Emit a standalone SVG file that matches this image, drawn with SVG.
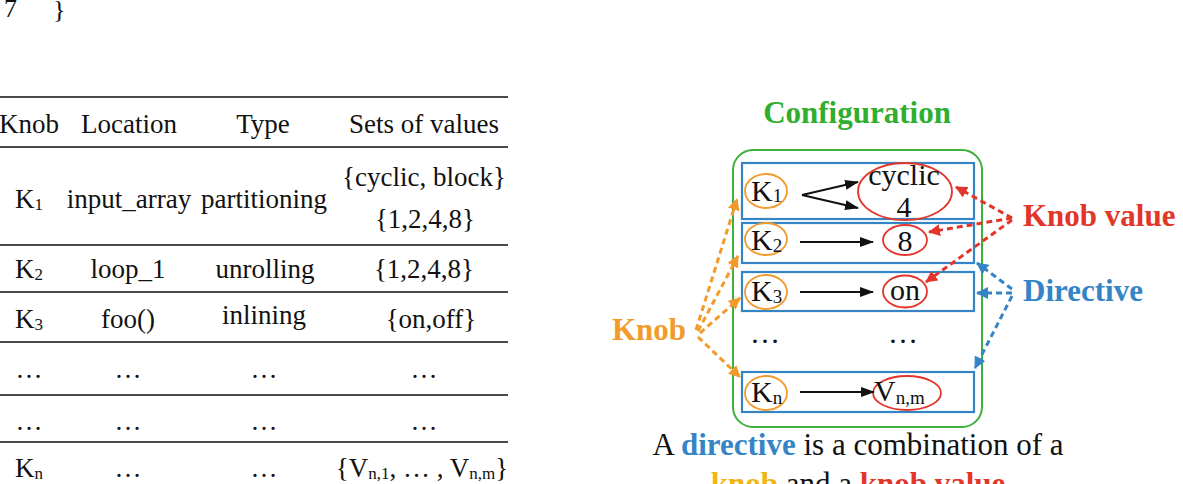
<svg xmlns="http://www.w3.org/2000/svg" width="1183" height="484" viewBox="0 0 1183 484">
  <style>
    .serif { font-family: "Liberation Serif", "Times New Roman", serif; fill: #111; }
    .tbl { font-size: 27px; text-anchor: middle; }
    .rule { stroke: #4a4a4a; stroke-width: 2.2; fill: none; }
    .dir { fill: none; stroke: #3585c6; stroke-width: 2.2; }
    .knob { fill: none; stroke: #f39a2c; stroke-width: 1.8; }
    .val { fill: none; stroke: #e2362b; stroke-width: 1.8; }
    .bold { font-weight: bold; font-size: 31px; }
    .lbl { font-size: 30px; }
    .flow { stroke: #111; stroke-width: 2; fill: none; marker-end: url(#ah-black); }
    .dash-o { stroke: #f39a2c; stroke-width: 3; stroke-dasharray: 6 4; fill: none; marker-end: url(#ah-orange); }
    .dash-r { stroke: #e2362b; stroke-width: 3; stroke-dasharray: 6 4; fill: none; marker-end: url(#ah-red); }
    .dash-b { stroke: #3585c6; stroke-width: 3; stroke-dasharray: 6 4; fill: none; marker-end: url(#ah-blue); }
  </style>
  <defs>
    <marker id="ah-black" markerUnits="userSpaceOnUse" markerWidth="14" markerHeight="10" refX="13" refY="5" orient="auto">
      <path d="M0,0 L14,5 L0,10 z" fill="#111"/>
    </marker>
    <marker id="ah-orange" markerUnits="userSpaceOnUse" markerWidth="12" markerHeight="12" refX="11" refY="6" orient="auto">
      <path d="M0,0 L12,6 L0,12 z" fill="#f39a2c"/>
    </marker>
    <marker id="ah-red" markerUnits="userSpaceOnUse" markerWidth="12" markerHeight="12" refX="11" refY="6" orient="auto">
      <path d="M0,0 L12,6 L0,12 z" fill="#e2362b"/>
    </marker>
    <marker id="ah-blue" markerUnits="userSpaceOnUse" markerWidth="12" markerHeight="12" refX="11" refY="6" orient="auto">
      <path d="M0,0 L12,6 L0,12 z" fill="#3585c6"/>
    </marker>
  </defs>

  <rect width="1183" height="484" fill="#fff"/>

  <!-- tail of the code listing above -->
  <g id="code-tail" class="serif" font-size="26">
    <text x="4" y="17">7</text>
    <text x="53" y="18">}</text>
  </g>

  <!-- knob table -->
  <g id="knob-table">
    <g class="rules">
      <line class="rule" x1="0" y1="97" x2="508" y2="97"/>
      <line class="rule" x1="0" y1="147" x2="508" y2="147"/>
      <line class="rule" x1="0" y1="245" x2="508" y2="245"/>
      <line class="rule" x1="0" y1="292" x2="508" y2="292"/>
      <line class="rule" x1="0" y1="342" x2="508" y2="342"/>
      <line class="rule" x1="0" y1="395" x2="508" y2="395"/>
      <line class="rule" x1="0" y1="442" x2="508" y2="442"/>
    </g>
    <g class="serif tbl">
      <text x="29" y="133">Knob</text>
      <text x="129" y="133">Location</text>
      <text x="263" y="133">Type</text>
      <text x="424" y="133">Sets of values</text>

      <text x="29" y="208">K<tspan font-size="17" dy="2">1</tspan></text>
      <text x="129" y="208">input_array</text>
      <text x="264" y="208">partitioning</text>
      <text x="424" y="186">{cyclic, block}</text>
      <text x="425" y="228">{1,2,4,8}</text>

      <text x="29" y="278">K<tspan font-size="17" dy="2">2</tspan></text>
      <text x="128" y="278">loop_1</text>
      <text x="265" y="278">unrolling</text>
      <text x="424" y="278">{1,2,4,8}</text>

      <text x="29" y="328">K<tspan font-size="17" dy="2">3</tspan></text>
      <text x="128" y="328">foo()</text>
      <text x="264" y="324">inlining</text>
      <text x="431" y="328">{on,off}</text>

      <text x="29" y="378">…</text>
      <text x="128" y="378">…</text>
      <text x="264" y="378">…</text>
      <text x="424" y="378">…</text>

      <text x="29" y="430">…</text>
      <text x="128" y="430">…</text>
      <text x="264" y="430">…</text>
      <text x="424" y="430">…</text>

      <text x="29" y="477">K<tspan font-size="17" dy="2">n</tspan></text>
      <text x="128" y="477">…</text>
      <text x="264" y="477">…</text>
      <text x="422" y="477">{V<tspan font-size="17" dy="2">n,1</tspan><tspan dy="-2">, … , V</tspan><tspan font-size="17" dy="2">n,m</tspan><tspan dy="-2">}</tspan></text>
    </g>
  </g>

  <!-- configuration -->
  <g id="configuration">
    <text class="serif bold" x="857" y="123" text-anchor="middle" fill="#2fae2f" style="fill:#2fae2f">Configuration</text>
    <rect x="733" y="150" width="249" height="277" rx="20" fill="none" stroke="#3db03d" stroke-width="2"/>
  </g>

  <g id="directive-1">
    <rect class="dir" x="742" y="163" width="232" height="56"/>
    <ellipse class="knob" cx="766" cy="191" rx="21" ry="17"/>
    <text class="serif lbl" x="751" y="201">K<tspan font-size="19" dy="1">1</tspan></text>
    <ellipse class="val" cx="905" cy="191.5" rx="47" ry="28.5"/>
    <text class="serif lbl" x="904" y="185" text-anchor="middle">cyclic</text>
    <text class="serif lbl" x="904" y="217" text-anchor="middle">4</text>
  </g>

  <g id="directive-2">
    <rect class="dir" x="742" y="223" width="232" height="40"/>
    <ellipse class="knob" cx="766" cy="239" rx="21" ry="16"/>
    <text class="serif lbl" x="751" y="250">K<tspan font-size="19" dy="2">2</tspan></text>
    <ellipse class="val" cx="905" cy="240" rx="22" ry="15"/>
    <text class="serif lbl" x="905" y="251" text-anchor="middle">8</text>
  </g>

  <g id="directive-3">
    <rect class="dir" x="742" y="272" width="232" height="39"/>
    <ellipse class="knob" cx="766" cy="292" rx="21" ry="17"/>
    <text class="serif lbl" x="751" y="301">K<tspan font-size="19" dy="2">3</tspan></text>
    <ellipse class="val" cx="905" cy="291.5" rx="22" ry="16"/>
    <text class="serif lbl" x="905" y="300" text-anchor="middle">on</text>
  </g>

  <g id="directive-ellipsis" class="serif lbl">
    <text x="765" y="343" text-anchor="middle">…</text>
    <text x="903" y="343" text-anchor="middle">…</text>
  </g>

  <g id="directive-n">
    <rect class="dir" x="742" y="372" width="232" height="40"/>
    <ellipse class="knob" cx="766" cy="393" rx="21" ry="17"/>
    <text class="serif lbl" x="751" y="402">K<tspan font-size="19" dy="2">n</tspan></text>
    <ellipse class="val" cx="907" cy="393" rx="34" ry="17"/>
    <text class="serif lbl" x="874" y="401">V<tspan font-size="19" dy="3">n,m</tspan></text>
  </g>

  <!-- labels -->
  <g id="label-knob">
    <text class="serif bold" x="612" y="340" style="fill:#f39a2c">Knob</text>
  </g>
  <g id="label-knob-value">
    <text class="serif bold" x="1023" y="226" style="fill:#e2362b">Knob value</text>
  </g>
  <g id="label-directive">
    <text class="serif bold" x="1023" y="301" style="fill:#3585c6">Directive</text>
  </g>

  <!-- connectors -->
  <g id="connectors">
    <path class="flow" d="M802,195 L858,182"/>
    <path class="flow" d="M802,195 L858,208"/>
    <path class="flow" d="M800,242 L873,242"/>
    <path class="flow" d="M800,292 L873,292"/>
    <path class="flow" d="M800,392 L874,392"/>

    <path class="dash-o" d="M696,330 L737,199"/>
    <path class="dash-o" d="M698,331 L738,256"/>
    <path class="dash-o" d="M700,333 L740,298"/>
    <path class="dash-o" d="M698,337 L740,377"/>

    <path class="dash-r" d="M1012,218 L956,187"/>
    <path class="dash-r" d="M1012,218 L929,232"/>
    <path class="dash-r" d="M1012,220 L926,282"/>

    <path class="dash-b" d="M1012,289 L977,263"/>
    <path class="dash-b" d="M1012,293 L977,293"/>
    <path class="dash-b" d="M1012,296 L975,368"/>
  </g>

  <!-- caption -->
  <g id="caption" class="serif" font-size="31" text-anchor="middle">
    <text x="858" y="455">A <tspan font-weight="bold" style="fill:#3585c6">directive</tspan> is a combination of a</text>
    <text x="858" y="494"><tspan font-weight="bold" style="fill:#f2b40f">knob</tspan> and a <tspan font-weight="bold" style="fill:#e2362b">knob value</tspan></text>
  </g>
</svg>
